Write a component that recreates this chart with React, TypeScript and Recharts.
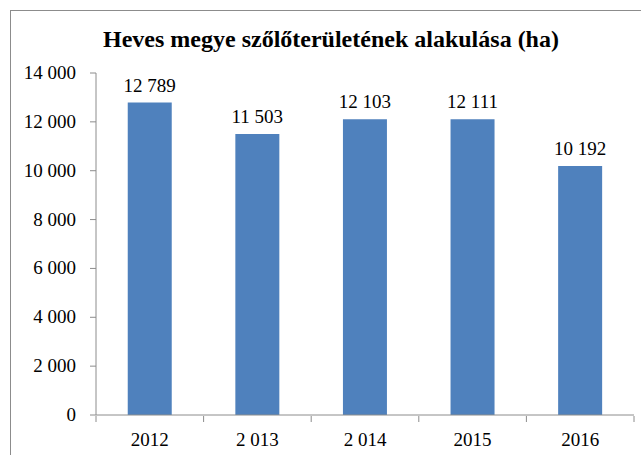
import { BarChart, Bar, XAxis, YAxis, LabelList } from "recharts";

const years = ["2012", "2 013", "2 014", "2015", "2016"];
const areaHa = [12789, 11503, 12103, 12111, 10192];
const yTicks = [0, 2000, 4000, 6000, 8000, 10000, 12000, 14000];
const boundaryTicks = [0, 1, 2, 3, 4, 5];

const data = years.map((year, i) => ({ year, value: areaHa[i], idx: i + 0.5 }));

const fmt = (v: number) => v.toLocaleString("en-US").replace(/,/g, " ");

const font = "'Liberation Serif', 'Times New Roman', serif";
const axisColor = "#8c8c8c";
const textSize = 19;
const textStyle = { fontFamily: font, fontSize: textSize, fill: "#000" };

// plain text label so recharts doesn't wrap it to the bar width
const TopLabel = (props: any) => {
  const { x, y, width, value } = props;
  return (
    <text x={x + width / 2} y={y - 11} textAnchor="middle" style={textStyle}>
      {fmt(Number(value))}
    </text>
  );
};

const YTick = (props: any) => {
  const { x, y, payload } = props;
  return (
    <text x={x - 12} y={y + 6} textAnchor="end" style={textStyle}>
      {fmt(payload.value)}
    </text>
  );
};

const XTick = (props: any) => {
  const { x, y, payload } = props;
  return (
    <text x={x} y={y + 23} textAnchor="middle" style={textStyle}>
      {payload.value}
    </text>
  );
};

const NoTick = () => <g />;

export default function App() {
  return (
    <div
      style={{
        position: "fixed",
        left: 0,
        top: 0,
        width: 641,
        height: 455,
        overflow: "hidden",
        background: "#fff",
        fontFamily: font,
      }}
    >
      <div
        style={{
          position: "absolute",
          left: 10,
          top: 10,
          width: 700,
          height: 500,
          border: `1px solid ${axisColor}`,
        }}
      >
        <div
          style={{
            position: "absolute",
            left: 0,
            top: 15,
            width: 640,
            textAlign: "center",
            fontWeight: "bold",
            fontSize: 24,
            color: "#000",
          }}
        >
          Heves megye szőlőterületének alakulása (ha)
        </div>
        <BarChart
          width={640}
          height={445}
          data={data}
          margin={{ top: 62, right: 17, left: 0, bottom: 11 }}
          barCategoryGap="29.5%"
        >
          <XAxis
            dataKey="year"
            tickLine={false}
            axisLine={{ stroke: axisColor }}
            tick={<XTick />}
            height={1}
            interval={0}
          />
          <XAxis
            xAxisId="b"
            type="number"
            dataKey="idx"
            domain={[0, 5]}
            ticks={boundaryTicks}
            axisLine={false}
            tickLine={{ stroke: axisColor }}
            tickSize={6}
            tick={<NoTick />}
            height={29}
            interval={0}
            allowDataOverflow
          />
          <YAxis
            domain={[0, 14000]}
            ticks={yTicks}
            width={85}
            axisLine={{ stroke: axisColor }}
            tickLine={{ stroke: axisColor }}
            tickSize={6}
            tick={<YTick />}
            interval={0}
          />
          <Bar dataKey="value" fill="#4F81BD" isAnimationActive={false}>
            <LabelList dataKey="value" content={TopLabel} />
          </Bar>
        </BarChart>
      </div>
    </div>
  );
}
